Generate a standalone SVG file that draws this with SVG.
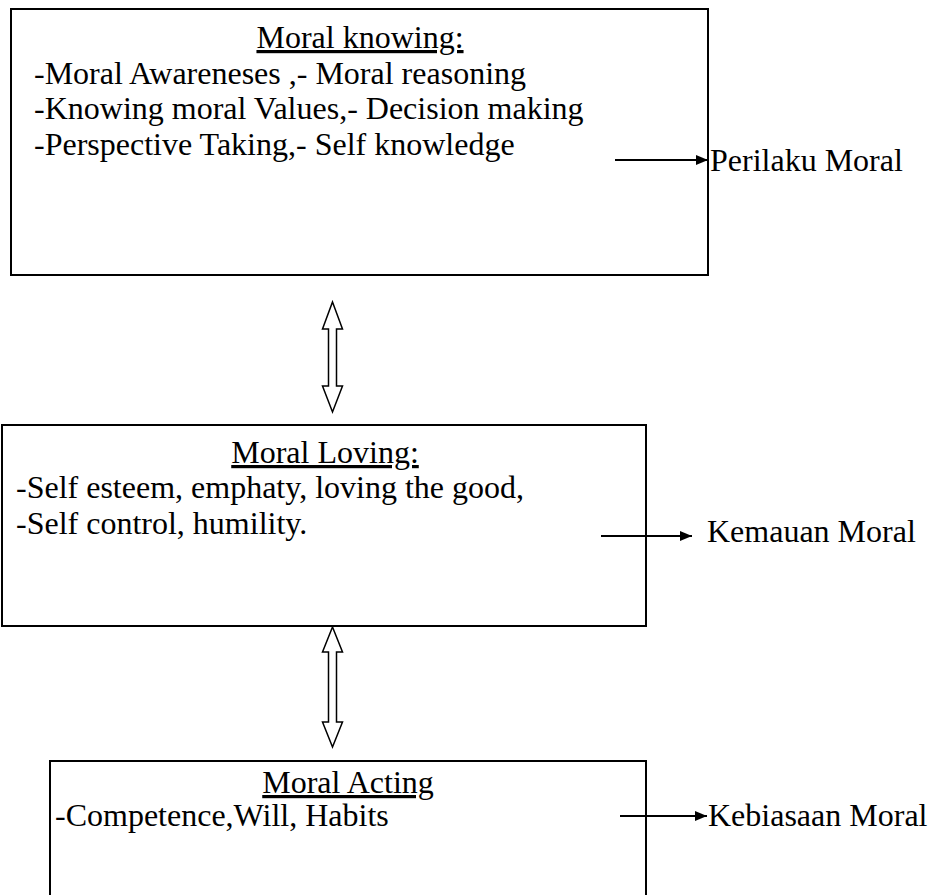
<svg xmlns="http://www.w3.org/2000/svg" width="935" height="895" viewBox="0 0 935 895">
<style>
.box{fill:#fff;stroke:#000;stroke-width:2}
.t{font-family:"Liberation Serif","Times New Roman",serif;font-size:32px;fill:#000}
.title{text-decoration:underline}
.dbl{fill:#fff;stroke:#000;stroke-width:1.5;stroke-linejoin:miter}
.arr{stroke:#000;stroke-width:2;fill:none}
</style>
<defs>
<marker id="ah" viewBox="0 0 12 12" refX="12" refY="6" markerWidth="12" markerHeight="12" markerUnits="userSpaceOnUse" orient="auto">
<path d="M0,1 L12,6 L0,11 Z" fill="#000"/>
</marker>
</defs>
<rect width="935" height="895" fill="#fff"/>
<g id="node-knowing">
<rect class="box" x="11" y="9" width="697" height="266"/>
<text class="t title" x="360" y="48" text-anchor="middle">Moral knowing:</text>
<text class="t" x="34" y="84">-Moral Awareneses ,- Moral reasoning</text>
<text class="t" x="34" y="119">-Knowing moral Values,- Decision making</text>
<text class="t" x="34" y="155">-Perspective Taking,- Self knowledge</text>
</g>
<g id="node-loving">
<rect class="box" x="2" y="425" width="644" height="201"/>
<text class="t title" x="325" y="463" text-anchor="middle">Moral Loving:</text>
<text class="t" x="16" y="498">-Self esteem, emphaty, loving the good,</text>
<text class="t" x="16" y="534">-Self control, humility.</text>
</g>
<g id="node-acting">
<path class="box" d="M50,900 L50,761 L646,761 L646,900"/>
<text class="t title" x="348" y="793" text-anchor="middle">Moral Acting</text>
<text class="t" x="55" y="826">-Competence,Will, Habits</text>
</g>
<g id="out-perilaku">
<text class="t" x="710" y="171">Perilaku Moral</text>
</g>
<g id="out-kemauan">
<text class="t" x="707" y="542">Kemauan Moral</text>
</g>
<g id="out-kebiasaan">
<text class="t" x="708" y="826">Kebiasaan Moral</text>
</g>
<g id="connectors">
<line class="arr" x1="615" y1="160" x2="708" y2="160" marker-end="url(#ah)"/>
<line class="arr" x1="601" y1="536" x2="692" y2="536" marker-end="url(#ah)"/>
<line class="arr" x1="620" y1="816" x2="707" y2="816" marker-end="url(#ah)"/>
<path class="dbl" d="M332.5,302 L342.5,329 L336.5,329 L336.5,386 L342.5,386 L332.5,412 L322.5,386 L328.5,386 L328.5,329 L322.5,329 Z"/>
<path class="dbl" d="M332.5,627 L342.5,652 L336.5,652 L336.5,722 L342.5,722 L332.5,747 L322.5,722 L328.5,722 L328.5,652 L322.5,652 Z"/>
</g>
</svg>
